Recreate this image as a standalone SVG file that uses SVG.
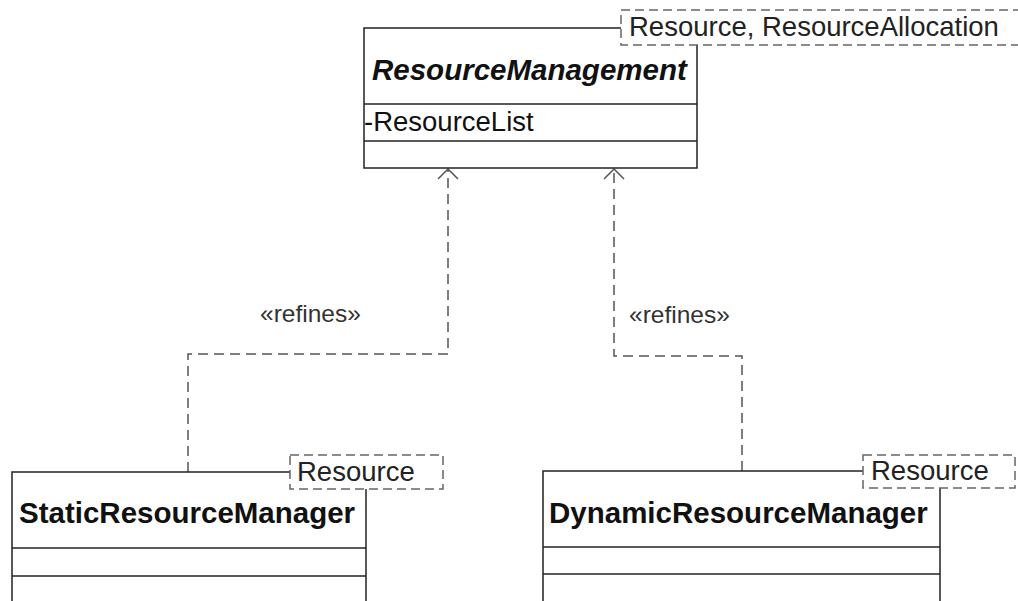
<svg xmlns="http://www.w3.org/2000/svg" width="1018" height="601" viewBox="0 0 1018 601">
  <style>
    .cls { fill: #fff; stroke: #222; stroke-width: 1.5; }
    .sep { stroke: #222; stroke-width: 1.5; }
    .tpl { fill: #fff; stroke: #666; stroke-width: 1.5; stroke-dasharray: 9 5; }
    .dep { fill: none; stroke: #555; stroke-width: 1.5; stroke-dasharray: 10 6; }
    .head { fill: none; stroke: #555; stroke-width: 1.5; }
    text { font-family: "Liberation Sans", Arial, sans-serif; fill: #111; }
    .name { font-size: 29.5px; font-weight: bold; }
    .abstract { font-style: italic; }
    .attr { font-size: 27.5px; }
    .param { font-size: 27.5px; fill: #222; }
    .stereo { font-size: 24.5px; fill: #333; }
  </style>

  <!-- Dependency connectors -->
  <g id="connectors">
    <path class="dep" d="M188 472 V354 H448 V170"/>
    <polyline class="head" points="438,179 448,169 458,179"/>
    <text class="stereo" x="260" y="322">«refines»</text>

    <path class="dep" d="M742 471 V356 H614 V170"/>
    <polyline class="head" points="604,179 614,169 624,179"/>
    <text class="stereo" x="629" y="323">«refines»</text>
  </g>

  <!-- Abstract class with template parameters -->
  <g id="ResourceManagement">
    <rect class="cls" x="364" y="28" width="333" height="140"/>
    <line class="sep" x1="364" y1="104" x2="697" y2="104"/>
    <line class="sep" x1="364" y1="141" x2="697" y2="141"/>
    <text class="name abstract" x="372" y="80">ResourceManagement</text>
    <text class="attr" x="364" y="131">-ResourceList</text>
    <rect class="tpl" x="621" y="10" width="420" height="35"/>
    <text class="param" x="629" y="36">Resource, ResourceAllocation</text>
  </g>

  <g id="StaticResourceManager">
    <rect class="cls" x="12" y="472" width="354" height="160"/>
    <line class="sep" x1="12" y1="548" x2="366" y2="548"/>
    <line class="sep" x1="12" y1="576" x2="366" y2="576"/>
    <text class="name" x="19" y="523">StaticResourceManager</text>
    <rect class="tpl" x="290" y="455" width="153" height="34"/>
    <text class="param" x="297" y="481">Resource</text>
  </g>

  <g id="DynamicResourceManager">
    <rect class="cls" x="543" y="471" width="397" height="160"/>
    <line class="sep" x1="543" y1="547" x2="940" y2="547"/>
    <line class="sep" x1="543" y1="574" x2="940" y2="574"/>
    <text class="name" x="549" y="523">DynamicResourceManager</text>
    <rect class="tpl" x="863" y="455" width="152" height="33"/>
    <text class="param" x="871" y="480">Resource</text>
  </g>
</svg>
